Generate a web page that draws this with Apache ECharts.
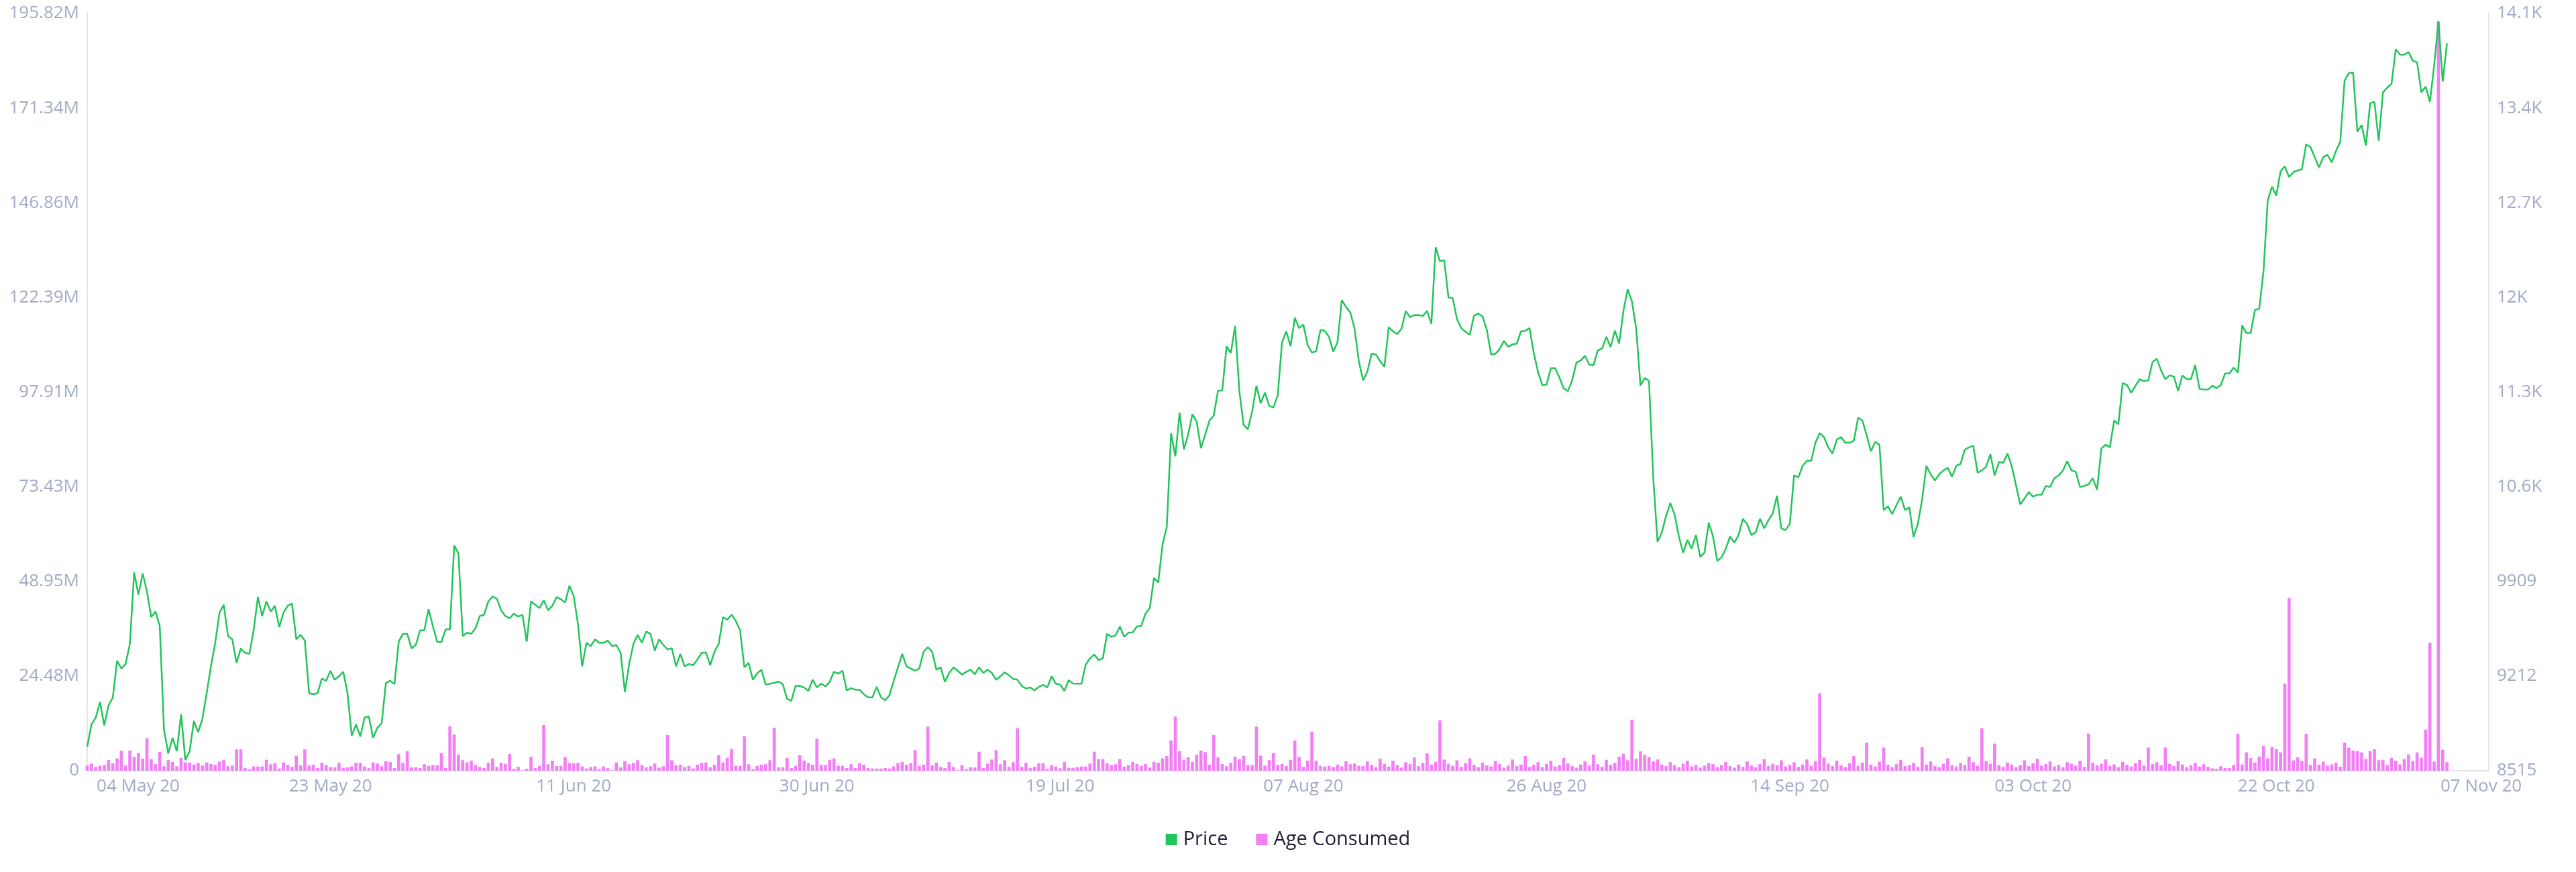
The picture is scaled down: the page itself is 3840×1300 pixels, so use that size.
<!DOCTYPE html>
<html><head><meta charset="utf-8">
<script src="https://cdn.jsdelivr.net/npm/echarts@6/dist/echarts.min.js"></script>
<style>html,body{margin:0;padding:0;background:#fff;}#c{width:3840px;height:1300px;}</style>
</head><body><div id="c"></div>
<script>
// Time base: one point every 8 hours starting 04 May 2020
const startTime = Date.UTC(2020, 4, 4, 0, 0, 0);
const stepHours = 8;

// Price (USD), one value per 8h step
const price = [
8692,8856,8906,9021,8848,8996,9054,9325,9268,9301,
9449,9975,9811,9967,9836,9646,9687,9580,8815,8642,
8757,8659,8930,8593,8659,8881,8799,8897,9087,9284,
9457,9679,9737,9506,9482,9309,9416,9383,9375,9548,
9794,9654,9761,9687,9729,9572,9679,9729,9745,9482,
9515,9473,9087,9078,9087,9194,9177,9251,9185,9210,
9243,9087,8774,8856,8766,8906,8914,8757,8831,8864,
9161,9177,9153,9465,9523,9523,9416,9441,9548,9548,
9704,9580,9465,9462,9556,9556,10173,10115,9506,9531,
9523,9564,9654,9663,9761,9798,9781,9696,9654,9638,
9671,9650,9663,9465,9761,9737,9712,9770,9696,9729,
9794,9778,9753,9877,9803,9597,9284,9457,9432,9482,
9457,9457,9473,9432,9441,9383,9095,9301,9449,9515,
9457,9539,9523,9399,9482,9441,9408,9416,9284,9375,
9284,9301,9292,9334,9383,9386,9292,9391,9449,9646,
9626,9663,9617,9548,9276,9309,9185,9232,9259,9149,
9156,9161,9172,9153,9045,9029,9141,9139,9128,9103,
9185,9128,9156,9136,9169,9243,9230,9251,9106,9123,
9111,9111,9078,9054,9054,9133,9057,9034,9070,9177,
9276,9375,9284,9268,9251,9268,9391,9424,9391,9259,
9276,9169,9235,9276,9251,9222,9243,9259,9226,9276,
9235,9259,9235,9185,9210,9240,9218,9190,9185,9139,
9120,9128,9106,9133,9147,9128,9210,9156,9149,9103,
9182,9157,9156,9156,9297,9342,9370,9330,9342,9523,
9501,9511,9577,9501,9531,9534,9577,9580,9671,9712,
9934,9901,10181,10313,
11000,10830,11150,10880,10990,11140,11086,10890,10990,11094,
11130,11314,11314,11640,11590,11790,11310,11060,11030,11160,
11350,11220,11300,11200,11190,11280,11670,11750,11640,11850,
11774,11800,11650,11594,11604,11760,11754,11710,11600,11670,
11980,11930,11890,11770,11530,11390,11454,11586,11580,11530,
11490,11780,11750,11730,11770,11900,11854,11870,11870,11864,
11900,11806,12370,12266,12274,12000,11994,11840,11774,11746,
11724,11866,11880,11860,11760,11580,11584,11620,11680,11636,
11654,11660,11750,11754,11774,11590,11450,11354,11358,11480,
11480,11410,11330,11310,11390,11520,11536,11570,11504,11500,
11610,11624,11710,11634,11756,11660,11900,12060,11970,11770,
11350,11406,11386,10670,10200,10270,10390,10486,10400,10240,
10120,10214,10150,10250,10090,10120,10340,10240,10060,10086,
10150,10240,10194,10250,10370,10330,10250,10270,10370,10300,
10360,10410,10540,10300,10286,10334,10690,
10675,10760,10797,10797,10930,11001,10972,10896,10850,10952,
10972,10930,10930,10944,11114,11094,10986,10867,10936,10916,
10434,10462,10405,10471,10533,10434,10454,10235,10334,10510,
10760,10697,10652,10697,10726,10746,10680,10760,10774,10879,
10896,10907,10709,10726,10754,10845,10689,10788,10782,10850,
10760,10618,10476,10519,10567,10533,10547,10547,10612,10604,
10669,10689,10726,10794,10726,10717,10604,10612,10624,10669,
10584,10887,10916,10896,11094,11066,11369,11355,11298,11349,
11398,11383,11389,11525,11548,11463,11398,11426,11417,11312,
11426,11398,11398,11502,11327,11321,11321,11349,11332,11355,
11440,11440,11483,11446,11794,11738,11738,11908,11916,12191,
12716,12815,12750,12928,12965,12886,12923,12934,12943,13127,
13107,13033,12957,13033,13050,12994,13079,13147,13595,13651,
13657,13220,13269,13118,13430,13439,13155,13510,13544,13572,
13827,13787,13787,13807,13742,13731,13510,13552,13439,13708,
14034,13589,13872
];

// Age Consumed, in millions, one value per 8h step
const ageConsumedM = [
1.33,1.85,0.98,1.27,1.45,2.77,1.91,3.18,5.2,1.33,
5.2,3.53,4.57,3.12,8.38,3.0,1.68,4.91,1.16,2.77,
2.25,1.16,3.35,2.2,2.08,1.62,1.97,1.33,2.14,1.73,
1.5,2.37,2.83,1.16,1.33,5.55,5.49,0.75,0.35,1.1,
1.1,1.1,2.83,1.68,1.91,0.58,2.14,1.5,0.98,3.87,
1.39,5.49,1.33,1.56,0.69,2.08,1.5,0.92,0.87,2.02,
0.69,0.87,1.1,2.08,
2.02,1.1,0.69,2.14,1.85,1.16,2.43,2.25,0.69,4.28,
2.02,5.03,0.87,0.87,0.69,1.68,1.27,1.45,1.39,4.57,
0.69,11.5,9.36,4.16,2.72,2.14,2.6,1.45,0.98,0.69,
2.02,3.18,0.98,2.02,1.79,4.34,0.52,0.98,0.12,0.52,
3.58,0.69,1.27,11.8,1.68,2.6,1.21,1.21,3.47,2.02,
1.91,2.02,1.1,0.58,0.98,1.1,0.4,1.1,0.69,0.12,
2.14,0.87,2.43,1.68,2.02,2.72,1.45,0.87,1.16,1.85,
0.81,1.16,9.25,2.72,1.45,1.56,0.98,1.27,0.58,1.56,
2.02,2.14,0.87,1.56,3.99,2.14,
3.29,5.61,1.27,1.27,8.9,1.68,0.4,1.27,1.56,1.68,
2.72,11.1,0.87,0.87,3.29,0.69,1.27,3.99,2.6,2.02,
1.56,8.32,1.56,1.45,2.83,3.18,1.27,1.27,0.69,1.68,
0.69,1.91,1.56,0.69,0.58,0.58,0.58,0.69,0.58,1.1,
1.97,2.31,1.56,1.97,5.32,1.27,1.56,11.4,1.39,2.14,
0.98,0.69,2.25,0.98,0.12,1.45,0.4,0.87,0.87,4.91,
0.69,1.85,2.89,5.32,1.68,2.72,
1.04,2.2,11.0,1.04,2.08,0.75,1.04,1.91,1.91,0.46,
1.39,1.1,0.64,2.25,0.75,0.75,0.92,1.1,1.1,1.85,
4.91,3.0,3.0,1.91,1.45,1.68,3.0,1.04,1.45,2.25,
1.73,1.21,1.73,0.81,2.31,2.08,3.18,3.81,7.8,14.0,
5.09,2.83,3.47,2.31,4.1,5.2,4.8,1.5,9.25,3.41,
1.73,1.16,2.08,3.64,3.0,3.81,1.45,1.45,11.4,3.93,
1.33,2.77,4.57,1.5,1.79,1.21,
2.83,7.8,3.58,0.98,2.6,10.1,2.6,1.27,1.1,1.27,0.98,1.56,1.1,2.43,1.68,1.85,1.27,
1.2,2.4,1.5,0.9,3.1,1.8,1.1,2.6,1.4,0.8,
2.2,1.7,3.4,1.2,2.0,4.5,1.6,2.3,13.0,2.9,
1.8,1.3,2.7,1.0,1.9,3.2,1.5,0.9,2.1,1.4,
1.1,2.5,1.7,0.8,1.3,2.9,1.2,1.6,3.8,1.0,
1.5,2.2,0.9,1.8,2.6,1.1,1.4,3.3,1.9,1.2,
0.8,1.6,2.4,1.3,4.2,1.7,1.0,2.8,1.5,2.0,
3.6,4.4,2.7,13.2,3.1,5.0,4.1,3.5,2.4,2.9,
1.6,1.2,2.2,1.4,0.9,1.8,2.6,1.1,1.5,0.8,
1.3,2.0,1.7,0.9,1.4,2.3,1.2,0.8,1.6,1.0,
2.4,1.3,0.9,1.7,3.0,1.2,1.8,1.4,2.7,1.1,
1.5,2.2,1.0,1.6,2.9,1.3,2.5,20.0,3.4,1.8,
1.2,2.6,1.4,0.9,1.9,3.8,1.3,2.1,7.2,1.6,
1.1,2.3,6.0,1.5,0.9,1.7,2.8,1.2,1.4,2.0,
1.0,6.1,1.6,2.4,1.2,0.9,1.8,3.2,1.4,1.1,
2.0,1.5,3.6,2.2,1.3,11.0,2.5,1.8,7.0,1.4,
1.0,2.1,1.6,0.9,1.4,2.7,1.2,1.9,3.1,1.3,
1.7,2.4,1.1,1.5,0.9,2.2,1.8,1.3,2.6,1.0,
9.6,2.1,1.4,1.8,2.9,1.2,1.6,0.9,2.3,1.5,
1.1,1.9,2.8,1.3,6.0,1.7,2.2,1.4,6.0,1.8,
1.2,2.5,1.6,0.9,1.4,2.0,1.1,1.7,1.0,0.6,
0.46,1.16,0.69,0.69,1.45,9.54,1.62,4.74,3.29,2.14,
3.64,6.42,3.18,6.18,5.61,4.74,22.5,44.6,2.66,3.47,
2.49,9.54,1.45,3.18,1.56,2.37,1.27,1.62,2.08,1.04,
7.28,5.95,5.2,5.03,4.74,3.0,5.09,5.55,2.72,2.83,
1.45,3.29,2.6,1.62,3.0,4.22,2.49,4.74,3.35,10.6,
33.1,2.37,193.8,5.43,2.2
];

// Axis tick labels
const leftTickLabels = ['0','24.48M','48.95M','73.43M','97.91M','122.39M','146.86M','171.34M','195.82M'];
const rightTickLabels = ['8515','9212','9909','10.6K','11.3K','12K','12.7K','13.4K','14.1K'];
const xTickDates = ['2020-05-04','2020-05-23','2020-06-11','2020-06-30','2020-07-19','2020-08-07','2020-08-26','2020-09-14','2020-10-03','2020-10-22','2020-11-07'];
const monthNames = ['Jan','Feb','Mar','Apr','May','Jun','Jul','Aug','Sep','Oct','Nov','Dec'];

const DAY = 86400000;
const tAt = i => startTime + i * stepHours * 3600000;
const xTickTs = xTickDates.map(s => Date.parse(s + 'T00:00:00Z'));
const leftMax = 195.82e6, leftInterval = leftMax / 8;
const rightMin = 8515, rightInterval = 697, rightMax = rightMin + 8 * rightInterval;

function fmtDate(v) {
  const d = new Date(v);
  const dd = String(d.getUTCDate()).padStart(2, '0');
  const yy = String(d.getUTCFullYear()).slice(2);
  return dd + ' ' + monthNames[d.getUTCMonth()] + ' ' + yy;
}

const labelColor = '#a1aac6';
const axisLineColor = '#e1e4ef';
const fontFamily = '"Open Sans", Lato, sans-serif';

const chart = echarts.init(document.getElementById('c'), null, {renderer: 'canvas'});
chart.setOption({
  animation: false,
  backgroundColor: '#ffffff',
  grid: {left: 130, right: 130, top: 20, bottom: 151, containLabel: false},
  legend: {
    data: ['Price', 'Age Consumed'],
    top: 1232, left: 'center',
    icon: 'rect', itemWidth: 17, itemHeight: 17, itemGap: 42,
    textStyle: {fontSize: 29, color: '#1c2135', fontFamily: fontFamily, padding: [0, 0, 0, 4]}
  },
  xAxis: {
    type: 'value',
    min: startTime,
    max: startTime + 187.6 * DAY,
    axisLine: {show: true, onZero: false, lineStyle: {color: axisLineColor, width: 2}},
    axisTick: {show: false},
    splitLine: {show: false},
    axisLabel: {
      customValues: xTickTs,
      color: labelColor, fontSize: 26, fontFamily: fontFamily, margin: 11,
      hideOverlap: false,
      formatter: function (v) {
        const s = fmtDate(v);
        return v === xTickTs[0] ? '{first|' + s + '}' : s;
      },
      rich: {first: {padding: [0, 0, 0, 152], color: labelColor, fontSize: 26, fontFamily: fontFamily}}
    }
  },
  yAxis: [
    {
      type: 'value', position: 'left', min: 0, max: leftMax, interval: leftInterval,
      axisLine: {show: true, lineStyle: {color: axisLineColor, width: 2}},
      axisTick: {show: false}, splitLine: {show: false},
      axisLabel: {color: labelColor, fontSize: 26, fontFamily: fontFamily, margin: 12,
        formatter: v => leftTickLabels[Math.round(v / leftInterval)]}
    },
    {
      type: 'value', position: 'right', min: rightMin, max: rightMax, interval: rightInterval,
      axisLine: {show: true, lineStyle: {color: axisLineColor, width: 2}},
      axisTick: {show: false}, splitLine: {show: false},
      axisLabel: {color: labelColor, fontSize: 26, fontFamily: fontFamily, margin: 12,
        formatter: v => rightTickLabels[Math.round((v - rightMin) / rightInterval)]}
    }
  ],
  series: [
    {
      name: 'Price', type: 'line', yAxisIndex: 1, z: 3,
      showSymbol: false, symbol: 'none',
      lineStyle: {width: 2.5, color: '#22c55a'},
      itemStyle: {color: '#22c55a'},
      data: price.map((p, i) => [tAt(i), p])
    },
    {
      name: 'Age Consumed', type: 'bar', yAxisIndex: 0, z: 2,
      barWidth: 4.7,
      itemStyle: {color: '#f27ff5'},
      data: ageConsumedM.map((v, i) => [tAt(i), v * 1e6])
    }
  ]
});
</script>
</body></html>
